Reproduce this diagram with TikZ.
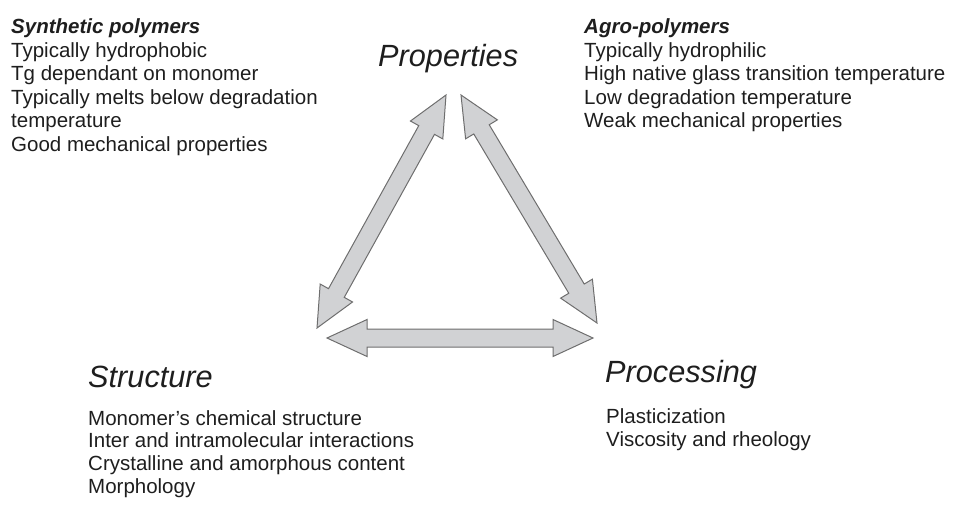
\documentclass[tikz,border=0pt]{standalone}
\usepackage{fontspec}
\setmainfont{Liberation Sans}
\usetikzlibrary{calc}

\definecolor{arrowfill}{HTML}{D1D2D4}
\definecolor{arrowline}{HTML}{6E6E6E}
\definecolor{ink}{HTML}{1E1E1E}

\tikzset{
  body/.style={anchor=base west, inner sep=0pt, text=ink,
    font=\fontsize{20.5}{23.5}\selectfont},
  head/.style={body, font=\fontsize{20.5}{23.5}\selectfont\bfseries\itshape},
  title/.style={anchor=base west, inner sep=0pt, text=ink,
    font=\fontsize{30.7}{34}\selectfont\itshape},
  fatarrow/.style={draw=arrowline, fill=arrowfill, line width=1pt, line join=miter}
}

% broad double-headed arrow between two named coordinates
\newcommand{\fatarrow}[2]{%
  \path[fatarrow] (#1)
    -- ($(#1)!40pt!(#2)!18.5pt!90:(#2)$)
    -- ($(#1)!40pt!(#2)!9pt!90:(#2)$)
    -- ($(#2)!40pt!(#1)!9pt!-90:(#1)$)
    -- ($(#2)!40pt!(#1)!18.5pt!-90:(#1)$)
    -- (#2)
    -- ($(#2)!40pt!(#1)!18.5pt!90:(#1)$)
    -- ($(#2)!40pt!(#1)!9pt!90:(#1)$)
    -- ($(#1)!40pt!(#2)!9pt!-90:(#2)$)
    -- ($(#1)!40pt!(#2)!18.5pt!-90:(#2)$)
    -- cycle;}

\begin{document}
\begin{tikzpicture}[x=1pt, y=-1pt]
\useasboundingbox (0,0) rectangle (955,504);

% synthetic polymers
\node[head] (synh) at (11,33) {Synthetic polymers};
\node[body] (syn1) at (11,57) {Typically hydrophobic};
\node[body] (syn2) at (11,80.5) {Tg dependant on monomer};
\node[body] (syn3) at (11,104) {Typically melts below degradation};
\node[body] (syn4) at (11,127.5) {temperature};
\node[body] (syn5) at (11,151) {Good mechanical properties};

% agro-polymers
\node[head] (agrh) at (584,33) {Agro-polymers};
\node[body] (agr1) at (584,57) {Typically hydrophilic};
\node[body] (agr2) at (584,80.5) {High native glass transition temperature};
\node[body] (agr3) at (584,104) {Low degradation temperature};
\node[body] (agr4) at (584,127.5) {Weak mechanical properties};

% corners of the triangle
\node[title] (prop) at (378,66) {Properties};
\node[title] (stru) at (88,387) {Structure};
\node[title] (proc) at (605,382) {Processing};

\node[body] (str1) at (88,425) {Monomer’s chemical structure};
\node[body] (str2) at (88,447.7) {Inter and intramolecular interactions};
\node[body] (str3) at (88,470.4) {Crystalline and amorphous content};
\node[body] (str4) at (88,493) {Morphology};

\node[body] (pro1) at (606,423) {Plasticization};
\node[body] (pro2) at (606,446) {Viscosity and rheology};

% arrow end points
\coordinate (ps) at (446,95);
\coordinate (sp) at (317,328);
\coordinate (pp) at (461,95);
\coordinate (rp) at (597,323);
\coordinate (sr) at (327,338);
\coordinate (rs) at (593,338);

\fatarrow{ps}{sp}
\fatarrow{pp}{rp}
\fatarrow{sr}{rs}
\end{tikzpicture}
\end{document}
